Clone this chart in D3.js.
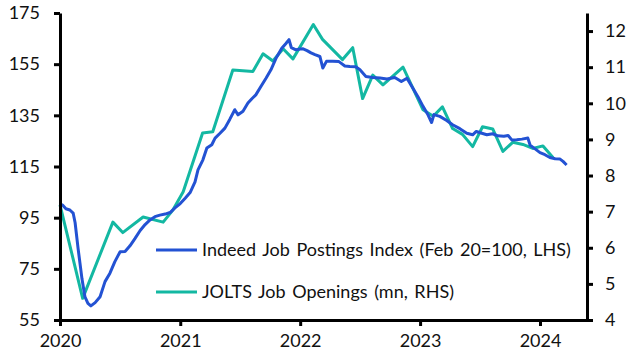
<!DOCTYPE html>
<html>
<head>
<meta charset="utf-8">
<script src="https://cdn.jsdelivr.net/npm/d3@7"></script>
<style>
  body { margin: 0; background: #fff; }
  svg text { font-family: Lato, "Noto Sans", sans-serif; fill: #111; }
</style>
</head>
<body>
<svg id="chart" width="631" height="362"></svg>
<script>
// Indeed job postings index (Feb 20 = 100)
const indeedDates = ['2020-01-01','2020-01-10','2020-01-19','2020-01-31','2020-02-10','2020-02-16','2020-02-25',
  '2020-03-08','2020-03-17','2020-03-26','2020-04-04','2020-04-17','2020-05-02','2020-05-17','2020-06-01',
  '2020-06-16','2020-07-02','2020-07-17','2020-08-01','2020-08-16','2020-09-01','2020-09-16','2020-10-01',
  '2020-10-16','2020-10-31','2020-11-16','2020-12-01','2020-12-16','2021-01-01','2021-01-16','2021-01-31',
  '2021-02-15','2021-02-24','2021-03-11','2021-03-23','2021-04-07','2021-04-17','2021-05-02','2021-05-17',
  '2021-06-01','2021-06-16','2021-06-26','2021-07-11','2021-07-26','2021-08-07','2021-08-19','2021-09-03',
  '2021-09-19','2021-10-04','2021-10-19','2021-11-06','2021-11-18','2021-11-28','2021-12-05','2021-12-19',
  '2022-01-01','2022-01-10','2022-01-22','2022-02-03','2022-02-15','2022-03-02','2022-03-11','2022-03-22',
  '2022-04-10','2022-04-29','2022-05-17','2022-06-01','2022-06-19','2022-07-02','2022-07-20','2022-08-10',
  '2022-09-01','2022-09-22','2022-10-16','2022-11-05','2022-11-22','2022-12-07','2022-12-25','2023-01-10',
  '2023-01-25','2023-02-05','2023-02-12','2023-03-02','2023-03-23','2023-04-10','2023-05-02','2023-05-23',
  '2023-06-10','2023-06-21','2023-07-08','2023-07-23','2023-08-10','2023-08-25','2023-09-13','2023-09-26',
  '2023-10-07','2023-10-22','2023-11-07','2023-11-25','2023-12-02','2023-12-16','2024-01-01','2024-01-16',
  '2024-01-31','2024-02-16','2024-03-02','2024-03-11','2024-03-22'];
const indeedValues = [100.4,99.8,98.5,98.0,96.8,93.0,83.0,
  71.0,64.0,61.5,60.5,61.8,64.1,70.0,73.3,
  77.8,81.7,81.8,84.0,86.8,90.0,92.3,94.1,
  95.4,96.0,96.4,97.0,98.8,100.5,102.6,104.8,
  109.0,113.7,117.6,122.2,123.5,126.1,128.0,130.0,
  133.5,137.2,135.2,136.6,139.8,141.5,143.0,146.2,
  149.5,152.8,157.2,161.2,163.0,164.6,161.5,160.6,
  160.9,161.0,160.3,159.4,158.7,158.0,153.5,156.1,
  156.1,156.0,154.3,154.1,154.0,152.8,150.2,149.8,
  149.6,149.2,149.8,148.2,149.5,146.3,142.4,138.5,
  135.2,132.2,135.3,134.6,133.0,131.3,129.8,128.0,
  127.4,128.7,128.0,127.4,127.8,127.0,126.8,127.1,
  125.4,125.5,125.7,126.1,123.3,122.0,120.4,119.6,
  118.5,118.0,117.9,117.0,115.6];

// JOLTS job openings (mn)
const joltsDates = ['2020-01-01','2020-03-10','2020-06-10','2020-07-10','2020-09-10','2020-11-10','2020-12-10',
  '2021-01-10','2021-03-10','2021-04-10','2021-06-10','2021-08-10','2021-09-10','2021-10-10','2021-11-10',
  '2021-12-10','2022-02-10','2022-03-10','2022-05-10','2022-06-10','2022-07-10','2022-08-10','2022-09-10',
  '2022-11-10','2023-01-10','2023-02-10','2023-03-10','2023-04-10','2023-05-10','2023-06-10','2023-07-10',
  '2023-08-10','2023-09-10','2023-10-10','2023-11-10','2023-12-10','2024-01-10','2024-02-10'];
const joltsValues = [7.19,4.60,6.71,6.42,6.85,6.71,7.05,
  7.55,9.18,9.21,10.92,10.88,11.37,11.17,11.51,
  11.23,12.18,11.77,11.21,11.54,10.13,10.78,10.51,
  11.00,9.82,9.64,9.90,9.30,9.14,8.80,9.35,
  9.29,8.67,8.92,8.86,8.75,8.82,8.49];

const leftTicks = [55, 75, 95, 115, 135, 155, 175];
const rightTicks = [4, 5, 6, 7, 8, 9, 10, 11, 12];
const yearTicks = ['2020', '2021', '2022', '2023', '2024'];

const legendLabels = ['Indeed Job Postings Index (Feb 20=100, LHS)', 'JOLTS Job Openings (mn, RHS)'];
const blue = '#2352d3';
const green = '#13b8a2';

const svg = d3.select('#chart');
const margin = { left: 60, right: 44, top: 13, bottom: 42 };
const width = +svg.attr('width');
const height = +svg.attr('height');

const parse = d3.timeParse('%Y-%m-%d');

const x = d3.scaleTime()
  .domain([parse('2020-01-01'), parse('2024-05-23')])
  .range([margin.left, width - margin.right]);

const yL = d3.scaleLinear()
  .domain([55, 175])
  .range([height - margin.bottom, margin.top]);

const yR = d3.scaleLinear()
  .domain([4, 12.5])
  .range([height - margin.bottom, margin.top]);

const indeed = indeedDates.map((d, i) => ({ date: parse(d), value: indeedValues[i] }));
const jolts = joltsDates.map((d, i) => ({ date: parse(d), value: joltsValues[i] }));

svg.append('path')
  .datum(jolts)
  .attr('fill', 'none')
  .attr('stroke', green)
  .attr('stroke-width', 3)
  .attr('stroke-linejoin', 'round')
  .attr('d', d3.line().x(d => x(d.date)).y(d => yR(d.value)));

svg.append('path')
  .datum(indeed)
  .attr('fill', 'none')
  .attr('stroke', blue)
  .attr('stroke-width', 3)
  .attr('stroke-linejoin', 'round')
  .attr('d', d3.line().x(d => x(d.date)).y(d => yL(d.value)));

// axes
const xAxis = d3.axisBottom(x)
  .tickValues(yearTicks.map(y => d3.timeParse('%Y')(y)))
  .tickFormat(d3.timeFormat('%Y'))
  .tickSize(6)
  .tickSizeOuter(0)
  .tickPadding(8);

const yAxisL = d3.axisLeft(yL)
  .tickValues(leftTicks)
  .tickSize(6)
  .tickSizeOuter(0)
  .tickPadding(14);

const yAxisR = d3.axisRight(yR)
  .tickValues(rightTicks)
  .tickSize(6)
  .tickSizeOuter(0)
  .tickPadding(12);

const axes = [
  svg.append('g').attr('transform', `translate(0,${height - margin.bottom})`).call(xAxis),
  svg.append('g').attr('transform', `translate(${margin.left},0)`).call(yAxisL),
  svg.append('g').attr('transform', `translate(${width - margin.right},0)`).call(yAxisR)
];

axes.forEach(g => {
  g.select('.domain').attr('stroke', '#000').attr('stroke-width', 3);
  g.selectAll('.tick line').attr('stroke', '#000').attr('stroke-width', 3);
  g.selectAll('.tick text').style('font-size', '18px').attr('fill', '#111');
});

// legend
const legend = svg.append('g');
[blue, green].forEach((c, i) => {
  const ly = 250 + i * 42;
  legend.append('line')
    .attr('x1', 156).attr('x2', 197)
    .attr('y1', ly).attr('y2', ly)
    .attr('stroke', c).attr('stroke-width', 3);
  legend.append('text')
    .attr('x', 202).attr('y', ly)
    .attr('dy', '0.35em')
    .style('font-size', '18px')
    .style('word-spacing', '2px')
    .text(legendLabels[i]);
});
</script>
</body>
</html>
